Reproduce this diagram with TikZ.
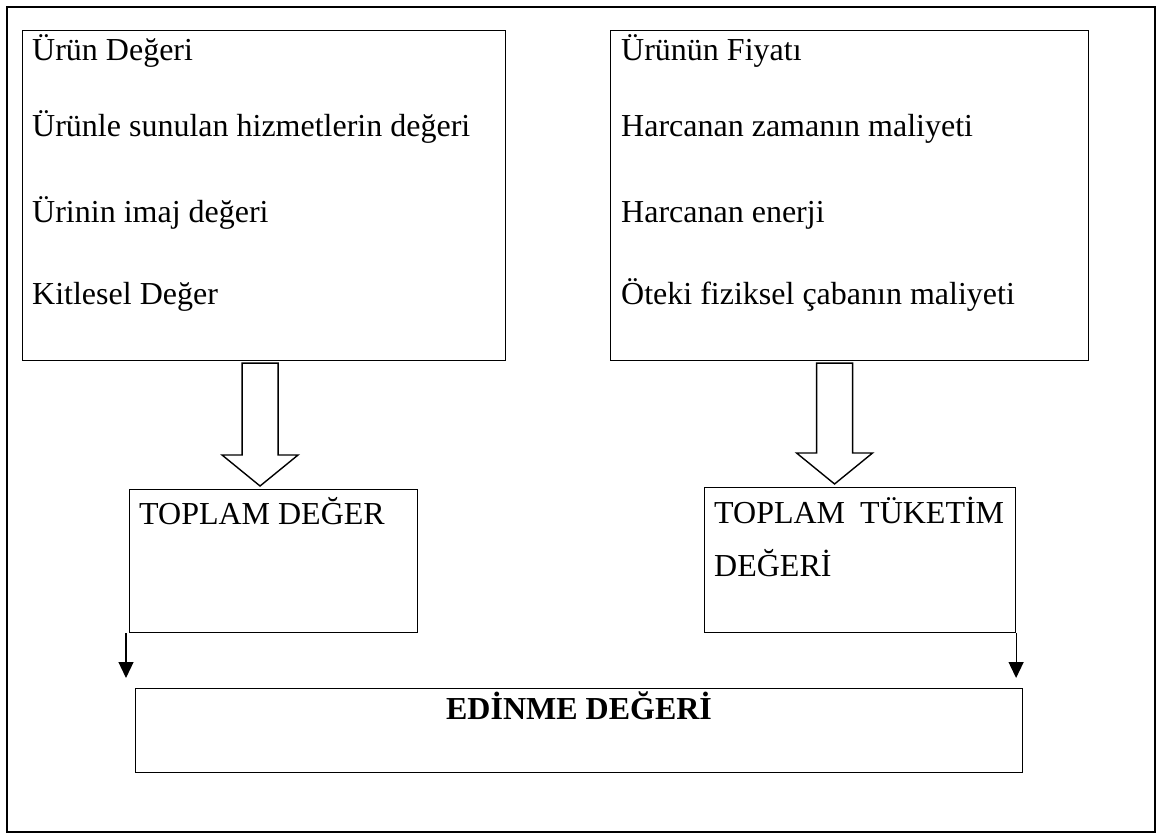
\documentclass[tikz,border=0pt]{standalone}
\usepackage{fontspec}
\setmainfont{Liberation Serif}
\usetikzlibrary{arrows.meta,calc}

\tikzset{
    panel/.style={draw, line width=1.1pt, inner sep=0pt, anchor=north west},
    item/.style={anchor=base west, inner sep=0pt, font=\fontsize{32}{38}\selectfont},
    blockarrow/.style={draw, line width=1.4pt, fill=white, line join=miter},
    thinarrow/.style={line width=1.2pt, -{Triangle[length=16pt,width=15pt]}, shorten >=10pt}
}

\begin{document}
\begin{tikzpicture}[x=1pt, y=-1pt]
    % page size and outer frame
    \useasboundingbox (0,0) rectangle (1157,837);
    \draw[line width=1.1pt] (7,7) rectangle (1155,832);

    % upper boxes
    \node[panel, minimum width=483pt, minimum height=330pt] (prod) at (22,30) {};
    \node[panel, minimum width=478pt, minimum height=330pt] (cost) at (610,30) {};
    \foreach [count=\i] \y/\txt in {61/Ürün Değeri, 137/Ürünle sunulan hizmetlerin değeri,
                                    223/Ürinin imaj değeri, 305/Kitlesel Değer}
        \node[item] (prod-\i) at (32,\y) {\txt};
    \foreach [count=\i] \y/\txt in {61/Ürünün Fiyatı, 137/Harcanan zamanın maliyeti,
                                    223/Harcanan enerji, 305/Öteki fiziksel çabanın maliyeti}
        \node[item] (cost-\i) at (621,\y) {\txt};

    % totals
    \node[panel, minimum width=288pt, minimum height=143pt] (totval) at (129,489) {};
    \node[panel, minimum width=311pt, minimum height=145pt] (totcost) at (704,487) {};
    \node[item] (totval-1) at (139,524) {TOPLAM DEĞER};
    \node[item] (totcost-1) at (714,523) {\makebox[290pt][s]{TOPLAM TÜKETİM}};
    \node[item] (totcost-2) at (714,576) {DEĞERİ};

    % result box
    \node[panel, minimum width=887pt, minimum height=84pt] (edinme) at (135,688) {};
    \node[item, anchor=base, font=\fontsize{32}{38}\selectfont\bfseries] (edinme-1)
        at ($(edinme.north)+(0,31)$) {EDİNME DEĞERİ};

    % hollow arrows
    \foreach \from/\to/\dx in {prod/totval/-4, cost/totcost/-15} {
        \draw[blockarrow] let \p1=($(\from.south)+(\dx,0)$), \p2=(\to.north) in
            (\x1-18pt,\y1-2pt) -- (\x1-18pt,\y2+34pt) -- (\x1-38pt,\y2+34pt) -- (\x1,\y2+3pt)
            -- (\x1+38pt,\y2+34pt) -- (\x1+18pt,\y2+34pt) -- (\x1+18pt,\y1-2pt) -- cycle;
    }

    % thin arrows
    \draw[thinarrow] ([xshift=-3pt]totval.south west) -- ([xshift=-3pt]totval.south west |- edinme.north);
    \draw[thinarrow] (totcost.south east) -- (totcost.south east |- edinme.north);
\end{tikzpicture}
\end{document}
